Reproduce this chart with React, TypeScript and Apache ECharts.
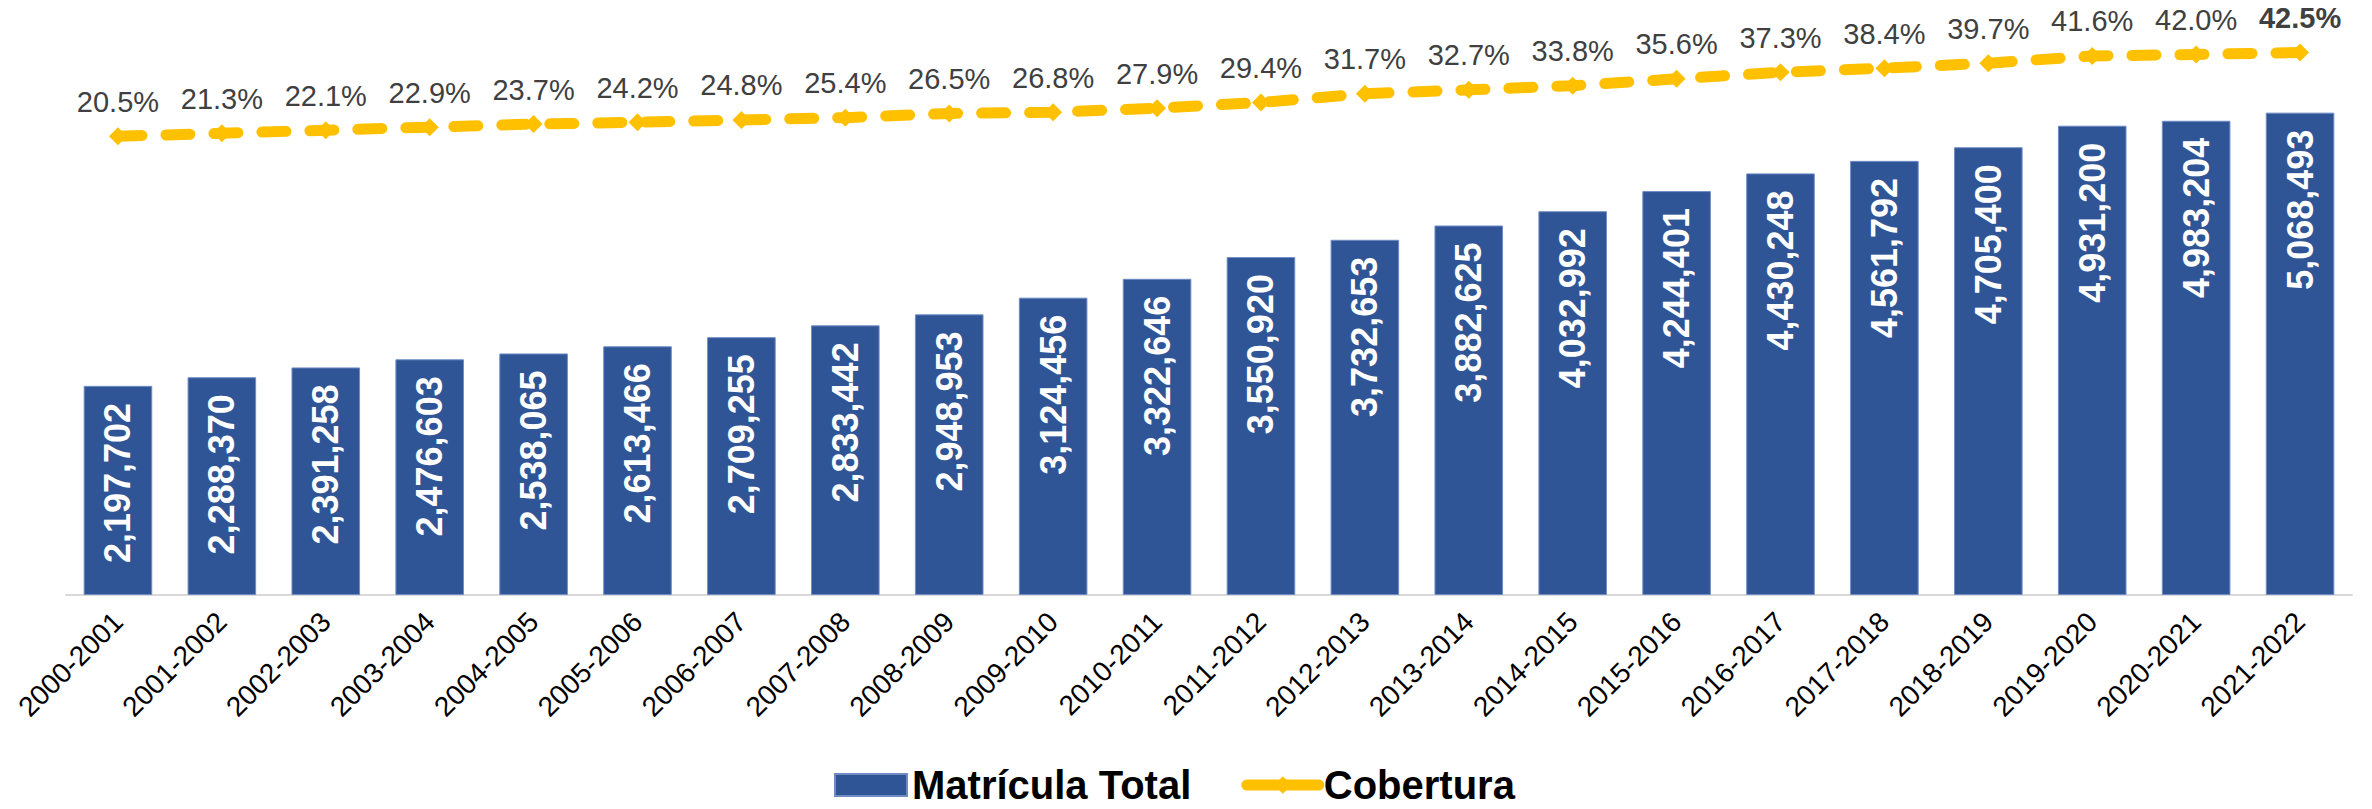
import React, { useEffect, useRef } from "react";
import * as echarts from "echarts";

const categories = [
  "2000-2001", "2001-2002", "2002-2003", "2003-2004", "2004-2005", "2005-2006",
  "2006-2007", "2007-2008", "2008-2009", "2009-2010", "2010-2011", "2011-2012",
  "2012-2013", "2013-2014", "2014-2015", "2015-2016", "2016-2017", "2017-2018",
  "2018-2019", "2019-2020", "2020-2021", "2021-2022",
];

const matricula = [
  2197702, 2288370, 2391258, 2476603, 2538065, 2613466, 2709255, 2833442,
  2948953, 3124456, 3322646, 3550920, 3732653, 3882625, 4032992, 4244401,
  4430248, 4561792, 4705400, 4931200, 4983204, 5068493,
];

const cobertura = [
  20.5, 21.3, 22.1, 22.9, 23.7, 24.2, 24.8, 25.4, 26.5, 26.8, 27.9, 29.4,
  31.7, 32.7, 33.8, 35.6, 37.3, 38.4, 39.7, 41.6, 42.0, 42.5,
];

const FONT = "'Liberation Sans', Arial, sans-serif";

export default function App() {
  const ref = useRef<HTMLDivElement>(null);

  useEffect(() => {
    document.body.style.margin = "0";
    if (!ref.current) return;
    const chart = echarts.init(ref.current, null, { renderer: "svg" });
    const last = cobertura.length - 1;
    chart.setOption({
      animation: false,
      textStyle: { fontFamily: FONT },
      grid: { left: 66, right: 20, top: 24, bottom: 214, containLabel: false },
      legend: {
        left: 829,
        top: 758,
        itemWidth: 72,
        itemHeight: 22,
        itemGap: 50,
        textStyle: {
          fontFamily: FONT,
          fontSize: 40,
          lineHeight: 44,
          fontWeight: "bold",
          color: "#000000",
        },
        data: [
          { name: "Matrícula Total", icon: "rect" },
          {
            name: "Cobertura",
            lineStyle: { width: 11, type: "solid", cap: "round", color: "#FFC000" },
            itemStyle: { color: "#FFC000" },
          },
        ],
      },
      xAxis: {
        type: "category",
        data: categories,
        axisLine: { lineStyle: { color: "#D9D9D9", width: 2 } },
        axisTick: { show: false },
        axisLabel: {
          interval: 0,
          rotate: 45,
          margin: 22,
          color: "#000000",
          fontSize: 28,
          fontFamily: FONT,
        },
      },
      yAxis: [
        { type: "value", min: 0, max: 6000000, show: false, splitLine: { show: false } },
        { type: "value", min: -100, max: 50, show: false, splitLine: { show: false } },
      ],
      series: [
        {
          name: "Matrícula Total",
          type: "bar",
          data: matricula,
          barCategoryGap: "34%",
          itemStyle: { color: "#2F5597", borderColor: "#6F8DC4", borderWidth: 1 },
          label: {
            show: true,
            position: "insideTop",
            rotate: 90,
            align: "right",
            verticalAlign: "middle",
            distance: 17,
            color: "#FFFFFF",
            fontSize: 36,
            fontWeight: "bold",
            fontFamily: FONT,
            formatter: (p: any) => Number(p.value).toLocaleString("en-US"),
          },
        },
        {
          name: "Cobertura",
          type: "line",
          yAxisIndex: 1,
          data: cobertura.map((v, i) =>
            i === last ? { value: v, label: { fontWeight: "bold" } } : v
          ),
          symbol: "diamond",
          symbolSize: 18,
          itemStyle: { color: "#FFC000" },
          lineStyle: { color: "#FFC000", width: 11, type: [24, 24], cap: "round", join: "round" },
          label: {
            show: true,
            position: "top",
            distance: 11,
            color: "#404040",
            fontSize: 29,
            fontFamily: FONT,
            formatter: (p: any) => `${Number(p.value).toFixed(1)}%`,
          },
        },
      ],
    });
    return () => chart.dispose();
  }, []);

  return <div ref={ref} style={{ width: 2372, height: 809 }} />;
}
